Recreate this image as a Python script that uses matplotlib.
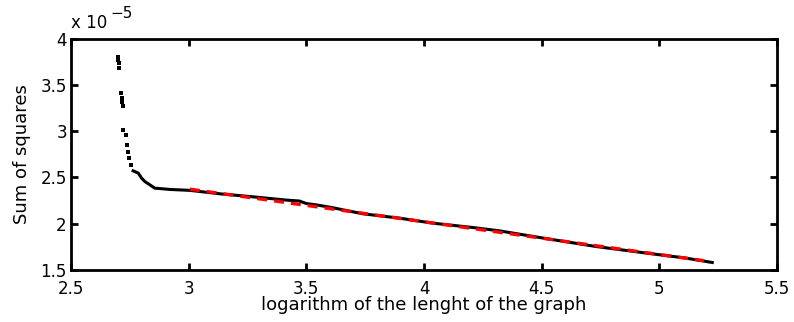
import matplotlib
matplotlib.use("Agg")
import matplotlib.pyplot as plt
import numpy as np

plt.rcParams['font.family'] = ['DejaVu Sans']

# Sum of squares (units of 1e-5) vs log length -- sparse steep part (individual dots)
x_dots = [2.698, 2.701, 2.704, 2.705, 2.712, 2.715, 2.718, 2.722, 2.722, 2.732,
          2.738, 2.743, 2.747, 2.755]
y_dots = [3.804, 3.768, 3.732, 3.685, 3.409, 3.355, 3.318, 3.275, 3.013, 2.959,
          2.851, 2.779, 2.708, 2.636]

# dense part (dots merge into a line)
x_dense = [2.764, 2.786, 2.800, 2.814, 2.835, 2.856, 2.92, 3.005, 3.132, 3.274,
           3.415, 3.470, 3.500, 3.540, 3.599, 3.740, 3.896, 4.037, 4.207, 4.320,
           4.377, 4.532, 4.730, 4.943, 5.112, 5.225]
y_dense = [2.571, 2.546, 2.492, 2.455, 2.420, 2.384, 2.370, 2.360, 2.323, 2.290,
           2.255, 2.245, 2.218, 2.204, 2.179, 2.107, 2.060, 2.006, 1.959, 1.923,
           1.899, 1.834, 1.754, 1.683, 1.629, 1.581]

# linear fit (red dashed)
x_fit = [3.005, 5.19]
y_fit = [2.373, 1.600]

xticks = [2.5, 3, 3.5, 4, 4.5, 5, 5.5]
yticks = [1.5, 2, 2.5, 3, 3.5, 4]

fig = plt.figure(figsize=(7.94, 3.22), dpi=100)
ax = fig.add_axes([71/794, 1 - 270/322, (777-71)/794, (270-38.5)/322])

ax.plot(x_dots, y_dots, linestyle='none', marker='s', markersize=2.2,
        color='black', markeredgewidth=0)
ax.plot(x_dense, y_dense, color='black', linewidth=2.2, solid_joinstyle='miter')
ax.plot(x_fit, y_fit, color='red', linewidth=2.4, dashes=(3.0, 2.1))

ax.set_xlim(2.5, 5.5)
ax.set_ylim(1.5, 4)
ax.set_xticks(xticks)
ax.set_yticks(yticks)
ax.set_xticklabels(['2.5', '3', '3.5', '4', '4.5', '5', '5.5'])
ax.set_yticklabels(['1.5', '2', '2.5', '3', '3.5', '4'])
ax.tick_params(direction='in', length=5, width=2, top=True, right=True,
               labelsize=12)
ax.tick_params(axis='x', pad=7)
ax.tick_params(axis='y', pad=3)
for s in ax.spines.values():
    s.set_linewidth(2)

ax.set_xlabel('logarithm of the lenght of the graph', fontsize=13, labelpad=-1)
ax.set_ylabel('Sum of squares', fontsize=13, labelpad=7)
ax.text(0.0, 1.03, 'x 10', transform=ax.transAxes, fontsize=12,
        ha='left', va='bottom')
ax.text(0.056, 1.075, '\u22125', transform=ax.transAxes, fontsize=11,
        ha='left', va='bottom')

fig.savefig('out.png', dpi=100)
